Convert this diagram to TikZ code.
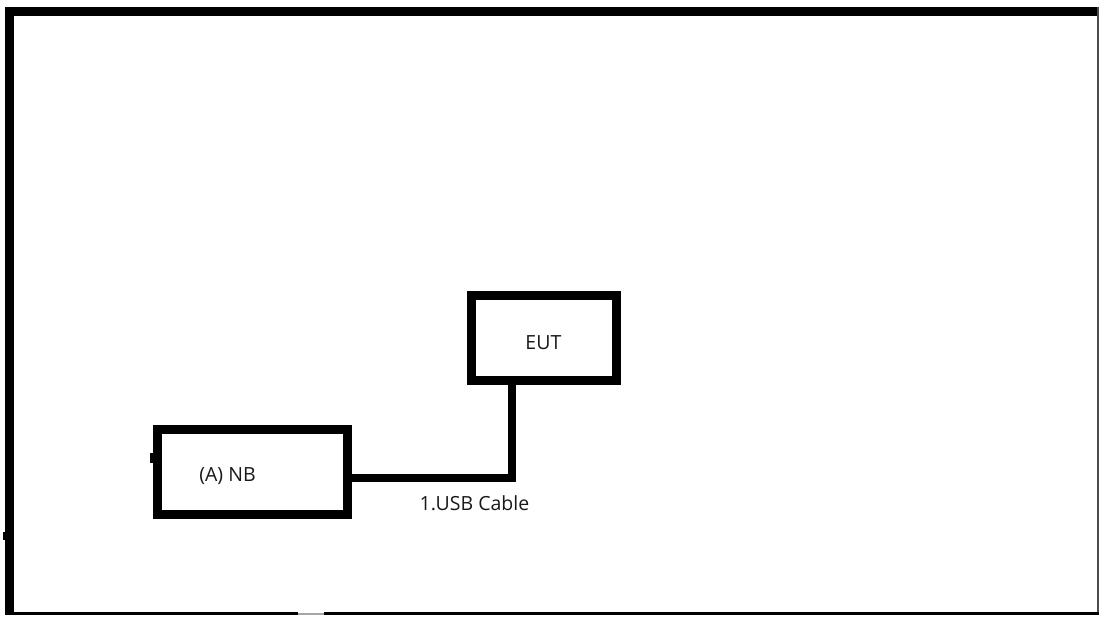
\documentclass[tikz,border=0pt]{standalone}
\usepackage{fontspec}
\setmainfont{Open Sans}
\begin{document}
\begin{tikzpicture}[x=1pt,y=-1pt,
  box/.style={draw=black,line width=9pt,inner sep=0pt,line join=miter},
  lbl/.style={font=\fontsize{19.5}{22}\selectfont,text=black!90,inner sep=0pt,anchor=base},
  cable/.style={draw=black,line width=8pt,line join=miter}]
\useasboundingbox (0,0) rectangle (1099,619);
\fill[white] (0,0) rectangle (1099,619);
% outer frame
\fill[black] (5,7) rectangle (14,615);
\fill[black] (5,7) rectangle (1097,15.5);
\fill[black!70] (1096.5,7) rectangle (1098.8,615);
\fill[black] (5,612) rectangle (1098.8,615);
\fill[white] (298,612) rectangle (324,615);
\fill[black!35] (298,613.3) rectangle (324,615);
\fill[black] (3,532) rectangle (6,540);
% boxes
\node[box,minimum width=189.5pt,minimum height=84.5pt] (nb) at (252.25,471.75) {};
\node[box,minimum width=145.2pt,minimum height=85.3pt] (eut) at (543.9,337.65) {};
\fill[black] (150,453) rectangle (153,463);
% labels
\node[lbl] (nbl) at (227.5,481) {(A) NB};
\node[lbl] (eutl) at (543.4,349.5) {EUT};
\node[lbl] (usb) at (474.5,510) {1.USB Cable};
% connector
\coordinate (bend) at (512,477.5);
\draw[cable] (nb.east |- bend) -- (bend) -- (bend |- eut.south);
\end{tikzpicture}
\end{document}
